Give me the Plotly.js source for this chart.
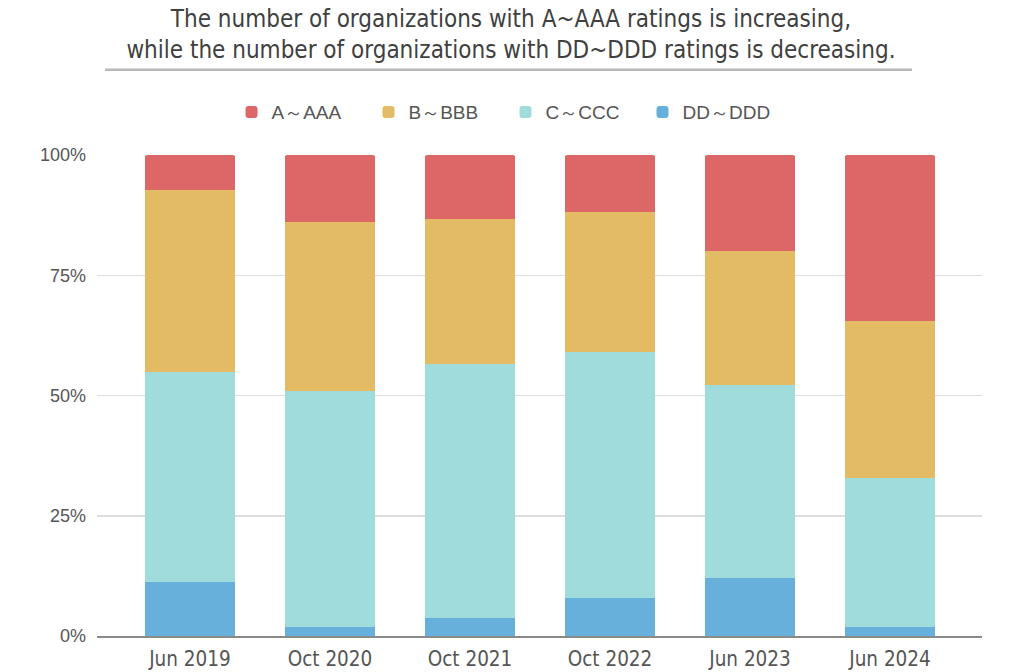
<!DOCTYPE html>
<html>
<head>
<meta charset="utf-8">
<script src="https://cdn.plot.ly/plotly-3.0.1.min.js"></script>
<style>
  html, body { margin: 0; padding: 0; background: #ffffff; }
  #chart { width: 1024px; height: 672px; }
</style>
</head>
<body>
<div id="chart"></div>
<script>
// Survey dates
const categories = ['Jun 2019', 'Oct 2020', 'Oct 2021', 'Oct 2022', 'Jun 2023', 'Jun 2024'];

// Share of organizations (%) in each rating band
const ddShare = [11.3, 1.8, 3.7, 7.9, 12.0, 1.8];
const cShare  = [43.6, 49.1, 52.9, 51.1, 40.1, 31.0];
const bShare  = [37.8, 35.2, 30.1, 29.1, 28.0, 32.6];
const aShare  = [7.3, 13.9, 13.3, 11.9, 19.9, 34.6];

// Band names, bottom of the stack first
const bandNames = ['DD～DDD', 'C～CCC', 'B～BBB', 'A～AAA'];
const bandColors = ['#67b0db', '#a0dcdb', '#e3bb65', '#dd6666'];
const bandValues = [ddShare, cShare, bShare, aShare];

const yTicks = [0, 25, 50, 75, 100];

const traces = bandValues.map((vals, i) => ({
  type: 'bar',
  name: bandNames[i],
  x: categories,
  y: vals,
  marker: { color: bandColors[i], line: { width: 0 } },
  hoverinfo: 'skip'
}));

const labelFont = 'Liberation Sans, Arial, sans-serif';
const condensedFont = 'DejaVu Sans Condensed, DejaVu Sans, sans-serif';

const layout = {
  width: 1024,
  height: 672,
  paper_bgcolor: '#ffffff',
  plot_bgcolor: '#ffffff',
  margin: { l: 97, r: 42, t: 155, b: 36 },
  barmode: 'stack',
  bargap: 0.357,
  barcornerradius: 3,
  title: {
    text: 'The number of organizations with A~AAA ratings is increasing,<br>while the number of organizations with DD~DDD ratings is decreasing.',
    font: { family: condensedFont, size: 24, color: '#404040' },
    x: 0.499,
    xanchor: 'center',
    xref: 'container',
    y: 1 - 27 / 672,
    yanchor: 'middle',
    yref: 'container'
  },
  showlegend: true,
  legend: {
    orientation: 'h',
    traceorder: 'reversed',
    x: 0.152,
    xanchor: 'left',
    y: 1.089,
    yanchor: 'middle',
    entrywidth: 92,
    entrywidthmode: 'pixels',
    font: { family: labelFont, size: 19, color: '#555555' },
    bgcolor: 'rgba(0,0,0,0)'
  },
  xaxis: {
    type: 'category',
    range: [-0.664, 5.657],
    showgrid: false,
    zeroline: false,
    showline: true,
    linecolor: '#8a8a8a',
    linewidth: 2,
    ticks: '',
    ticklabelstandoff: 3,
    tickfont: { family: condensedFont, size: 20.5, color: '#555555' },
    fixedrange: true
  },
  yaxis: {
    range: [0, 100],
    tickmode: 'array',
    tickvals: yTicks,
    ticktext: yTicks.map(v => v + '%'),
    showgrid: true,
    gridcolor: '#dddddd',
    gridwidth: 1.5,
    zeroline: false,
    showline: false,
    ticks: '',
    ticklabelstandoff: 10,
    tickfont: { family: labelFont, size: 18, color: '#555555' },
    fixedrange: true
  },
  shapes: [
    {
      // rule under the heading
      type: 'line',
      xref: 'paper',
      yref: 'paper',
      x0: (105 - 97) / 885,
      x1: (912 - 97) / 885,
      y0: 1.177,
      y1: 1.177,
      line: { color: '#b8b8b8', width: 2.5 }
    }
  ]
};

Plotly.newPlot('chart', traces, layout, { staticPlot: true, displayModeBar: false });
</script>
</body>
</html>
